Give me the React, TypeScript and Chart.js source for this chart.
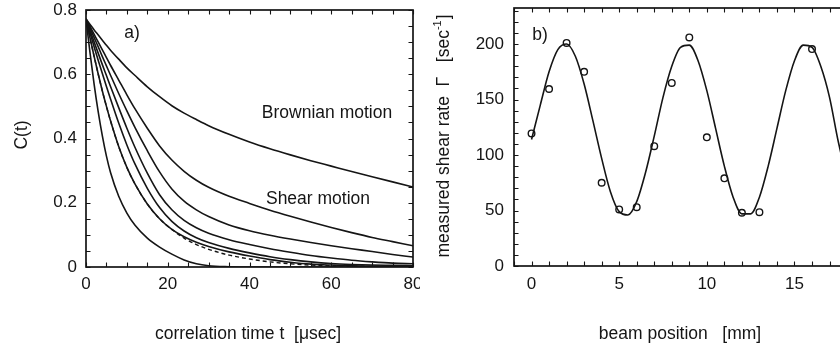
import React, { useEffect, useRef } from "react";
import { Chart, registerables } from "chart.js";
Chart.register(...registerables);

const FONT = '"Liberation Sans", Arial, Helvetica, sans-serif';
const INK = "#151515";

// ---------- panel a) : correlation functions ----------
const corrTime = [0, 1, 2, 3, 4, 5, 6, 8, 10, 12, 15, 18, 21, 24, 27, 30, 35, 40, 45, 50, 55, 60, 65, 70, 75, 80];
const brownian = [0.772, 0.755, 0.738, 0.722, 0.706, 0.69, 0.675, 0.647, 0.62, 0.596, 0.561, 0.53, 0.502, 0.479, 0.459, 0.44, 0.413, 0.389, 0.368, 0.349, 0.331, 0.314, 0.297, 0.281, 0.265, 0.249];
const shear1 = [0.772, 0.748, 0.724, 0.7, 0.676, 0.652, 0.628, 0.582, 0.536, 0.492, 0.432, 0.377, 0.333, 0.298, 0.27, 0.248, 0.22, 0.198, 0.177, 0.158, 0.14, 0.123, 0.107, 0.092, 0.079, 0.066];
const shear2 = [0.772, 0.743, 0.714, 0.685, 0.655, 0.626, 0.597, 0.54, 0.486, 0.434, 0.362, 0.296, 0.243, 0.205, 0.178, 0.157, 0.131, 0.113, 0.099, 0.087, 0.076, 0.066, 0.057, 0.048, 0.039, 0.031];
const shear3 = [0.772, 0.736, 0.7, 0.665, 0.63, 0.596, 0.562, 0.496, 0.432, 0.372, 0.292, 0.225, 0.178, 0.145, 0.122, 0.105, 0.085, 0.07, 0.057, 0.046, 0.036, 0.028, 0.021, 0.016, 0.012, 0.01];
const shear4 = [0.772, 0.728, 0.685, 0.643, 0.602, 0.562, 0.523, 0.448, 0.38, 0.32, 0.245, 0.185, 0.142, 0.112, 0.091, 0.076, 0.058, 0.044, 0.032, 0.023, 0.016, 0.011, 0.008, 0.006, 0.005, 0.004];
const shear5 = [0.772, 0.712, 0.655, 0.6, 0.548, 0.5, 0.455, 0.375, 0.31, 0.258, 0.196, 0.15, 0.117, 0.094, 0.077, 0.064, 0.047, 0.034, 0.023, 0.015, 0.009, 0.006, 0.004, 0.003, 0.002, 0.002];
const shear5Dashed = [0.772, 0.712, 0.655, 0.6, 0.548, 0.5, 0.455, 0.375, 0.31, 0.258, 0.196, 0.15, 0.117, 0.09, 0.07, 0.055, 0.037, 0.025, 0.016, 0.01, 0.006, 0.004, 0.003, 0.002, 0.002, 0.002];
const shear6 = [0.772, 0.665, 0.568, 0.482, 0.408, 0.345, 0.294, 0.22, 0.168, 0.13, 0.09, 0.062, 0.04, 0.022, 0.01, 0.004, 0.001, 0, 0, 0, 0, 0, 0, 0, 0, 0];
const corrXTicks = [0, 20, 40, 60, 80];
const corrYTicks = [0, 0.2, 0.4, 0.6, 0.8];

// ---------- panel b) : shear rate vs beam position ----------
const beamPos = [0, 1, 2, 3, 4, 5, 6, 7, 8, 9, 10, 11, 12, 13, 16];
const shearRate = [119.5, 159.5, 201, 175, 75, 51, 53, 108, 165, 206, 116, 79, 48, 48.5, 195.5];
const fitPos = [0, 0.5, 1, 1.5, 2, 2.5, 3, 3.5, 4, 4.5, 5, 5.5, 6, 6.5, 7, 7.5, 8, 8.5, 9, 9.5, 10, 10.5, 11, 11.5, 12, 12.5, 13, 13.5, 14, 14.5, 15, 15.5, 16, 16.5, 17, 17.5, 18, 18.5];
const fitRate = [114, 145, 175, 195, 200, 189, 164, 131, 97, 67, 49, 46, 58, 84, 117, 152, 180, 197, 199, 185, 158, 124, 90, 62, 47, 47, 62, 90, 124, 158, 185, 199, 197, 180, 152, 112, 80, 56];
const beamXTicks = [0, 5, 10, 15];
const beamYTicks = [0, 50, 100, 150, 200];

type TextItem = { text: string; x: number; y: number; size: number; rot?: boolean };

function framePlugin(xStep: number, yStep: number) {
  return {
    id: "frameTicks",
    afterDatasetsDraw(chart: any) {
      const { ctx, chartArea: a, scales } = chart;
      const xs = scales.x;
      const ys = scales.y;
      ctx.save();
      ctx.strokeStyle = INK;
      ctx.lineWidth = 1.1;
      const len = 4.5;
      ctx.beginPath();
      for (let v = xs.min; v <= xs.max + 1e-9; v += xStep) {
        const px = Math.round(xs.getPixelForValue(v)) + 0.5;
        ctx.moveTo(px, a.bottom);
        ctx.lineTo(px, a.bottom - len);
        ctx.moveTo(px, a.top);
        ctx.lineTo(px, a.top + len);
      }
      for (let v = ys.min; v <= ys.max + 1e-9; v += yStep) {
        const py = Math.round(ys.getPixelForValue(v)) + 0.5;
        ctx.moveTo(a.left, py);
        ctx.lineTo(a.left + len, py);
        ctx.moveTo(a.right, py);
        ctx.lineTo(a.right - len, py);
      }
      ctx.stroke();
      ctx.lineWidth = 1.7;
      ctx.strokeRect(a.left, a.top, a.right - a.left, a.bottom - a.top);
      ctx.restore();
    },
  };
}

function textPlugin(items: TextItem[], extra?: (ctx: CanvasRenderingContext2D) => void) {
  return {
    id: "texts",
    afterDraw(chart: any) {
      const ctx: CanvasRenderingContext2D = chart.ctx;
      ctx.save();
      ctx.fillStyle = INK;
      ctx.textAlign = "center";
      ctx.textBaseline = "middle";
      for (const it of items) {
        ctx.font = `${it.size}px ${FONT}`;
        if (it.rot) {
          ctx.save();
          ctx.translate(it.x, it.y);
          ctx.rotate(-Math.PI / 2);
          ctx.fillText(it.text, 0, 0);
          ctx.restore();
        } else {
          ctx.fillText(it.text, it.x, it.y);
        }
      }
      if (extra) extra(ctx);
      ctx.restore();
    },
  };
}

function baseScale(min: number, max: number, ticks: number[], fmt: (v: number) => string, pad: number, isX: boolean, size: number) {
  return {
    type: "linear",
    min,
    max,
    grid: { display: false, drawTicks: false },
    border: { display: false },
    afterBuildTicks: (s: any) => {
      s.ticks = ticks.map((v) => ({ value: v }));
    },
    ticks: {
      padding: pad,
      color: INK,
      font: { family: FONT, size: 17 },
      maxRotation: 0,
      autoSkip: false,
      callback: (v: any) => fmt(Number(v)),
    },
    afterFit: (s: any) => {
      if (isX) s.height = size;
      else s.width = size;
      s.paddingLeft = 0;
      s.paddingRight = 0;
      s.paddingTop = 0;
      s.paddingBottom = 0;
    },
  };
}

function line(xs: number[], ys: number[], dashed = false) {
  return {
    data: xs.map((x, i) => ({ x, y: ys[i] })),
    borderColor: INK,
    borderWidth: dashed ? 1.4 : 1.6,
    borderDash: dashed ? [4, 3] : [],
    pointRadius: 0,
    fill: false,
    cubicInterpolationMode: "monotone",
  };
}

export default function App() {
  const leftRef = useRef<HTMLCanvasElement>(null);
  const rightRef = useRef<HTMLCanvasElement>(null);

  useEffect(() => {
    const left = new Chart(leftRef.current as HTMLCanvasElement, {
      type: "line",
      data: {
        datasets: [
          line(corrTime, brownian),
          line(corrTime, shear1),
          line(corrTime, shear2),
          line(corrTime, shear3),
          line(corrTime, shear4),
          line(corrTime, shear5Dashed, true),
          line(corrTime, shear5),
          line(corrTime, shear6),
        ] as any,
      },
      options: {
        responsive: false,
        animation: false,
        events: [],
        layout: { padding: { left: 0, right: 7, top: 10, bottom: 0 } },
        plugins: { legend: { display: false }, tooltip: { enabled: false } },
        scales: {
          x: baseScale(0, 80, corrXTicks, (v) => String(v), 7, true, 80) as any,
          y: baseScale(0, 0.8, corrYTicks, (v) => (v === 0 ? "0" : v.toFixed(1)), 9, false, 86) as any,
        },
      },
      plugins: [
        framePlugin(5, 0.05),
        textPlugin([
          { text: "C(t)", x: 22, y: 135, size: 17.5, rot: true },
          { text: "correlation time t  [\u03bcsec]", x: 248, y: 334, size: 17.5 },
          { text: "a)", x: 132, y: 33, size: 17.5 },
          { text: "Brownian motion", x: 327, y: 113, size: 17.5 },
          { text: "Shear motion", x: 318, y: 199, size: 17.5 },
        ]),
      ] as any,
    });

    const right = new Chart(rightRef.current as HTMLCanvasElement, {
      type: "line",
      data: {
        datasets: [
          line(fitPos, fitRate),
          {
            data: beamPos.map((x, i) => ({ x, y: shearRate[i] })),
            showLine: false,
            pointRadius: 3.3,
            pointBorderWidth: 1.4,
            pointBorderColor: INK,
            pointBackgroundColor: "rgba(255,255,255,0)",
            borderColor: INK,
          },
        ] as any,
      },
      options: {
        responsive: false,
        animation: false,
        events: [],
        layout: { padding: { left: 0, right: 4, top: 8, bottom: 0 } },
        plugins: { legend: { display: false }, tooltip: { enabled: false } },
        scales: {
          x: baseScale(-1, 19, beamXTicks, (v) => String(v), 8, true, 81) as any,
          y: baseScale(0, 232.5, beamYTicks, (v) => String(v), 10, false, 94) as any,
        },
      },
      plugins: [
        framePlugin(1, 10),
        textPlugin(
          [
            { text: "beam position   [mm]", x: 260, y: 334, size: 17.5 },
            { text: "b)", x: 120, y: 35, size: 17.5 },
          ],
          (ctx) => {
            ctx.save();
            ctx.translate(24, 136);
            ctx.rotate(-Math.PI / 2);
            ctx.textAlign = "left";
            ctx.textBaseline = "middle";
            const main = "measured shear rate  \u0393   [sec";
            const sup = "-1";
            const end = "]";
            ctx.font = `17.5px ${FONT}`;
            const w1 = ctx.measureText(main).width;
            const w3 = ctx.measureText(end).width;
            ctx.font = `11px ${FONT}`;
            const w2 = ctx.measureText(sup).width;
            const total = w1 + w2 + w3 + 1;
            let x = -total / 2;
            ctx.font = `17.5px ${FONT}`;
            ctx.fillText(main, x, 0);
            x += w1;
            ctx.font = `11px ${FONT}`;
            ctx.fillText(sup, x, -6);
            x += w2 + 1;
            ctx.font = `17.5px ${FONT}`;
            ctx.fillText(end, x, 0);
            ctx.restore();
          }
        ),
      ] as any,
    });

    return () => {
      left.destroy();
      right.destroy();
    };
  }, []);

  return (
    <div style={{ position: "fixed", left: 0, top: 0, width: 840, height: 347, overflow: "hidden", background: "#fff" }}>
      <canvas ref={leftRef} width={420} height={347} style={{ position: "absolute", left: 0, top: 0, width: 420, height: 347 }} />
      <canvas ref={rightRef} width={450} height={347} style={{ position: "absolute", left: 420, top: 0, width: 450, height: 347 }} />
    </div>
  );
}
